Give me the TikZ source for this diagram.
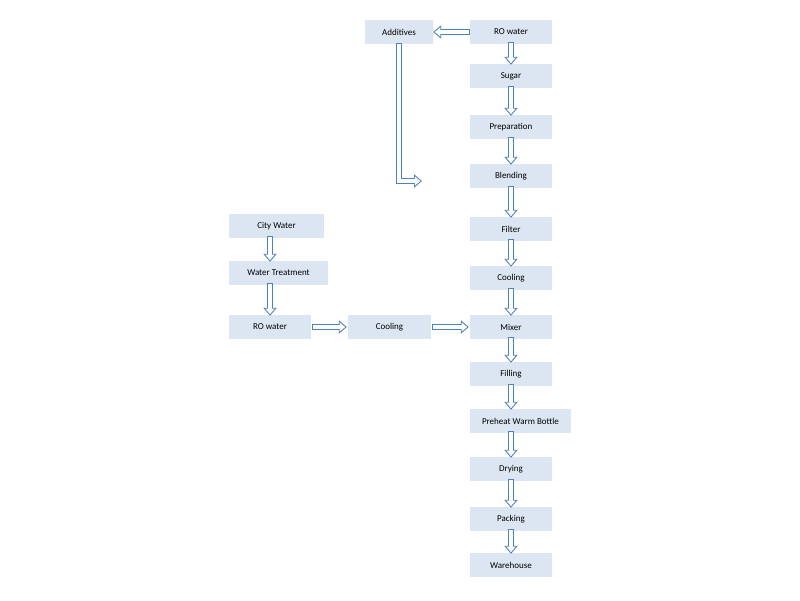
\documentclass[tikz,border=0pt]{standalone}
\usepackage{fontspec}
\setmainfont{Carlito}
\usetikzlibrary{arrows.meta}
\definecolor{boxfill}{HTML}{DCE6F2}
\definecolor{arrblue}{HTML}{4F81BD}
\tikzset{
  box/.style={fill=boxfill, draw=none, minimum height=24pt, minimum width=82pt, inner sep=1pt, font=\fontsize{9}{10}\selectfont},
  outerarr/.style={draw=arrblue, line width=6pt, line join=miter, -{Triangle[length=8pt,width=13pt]}},
  innerarr/.style={draw=white, line width=3.6pt, line join=miter, shorten >=1.6pt, shorten <=1pt, -{Triangle[length=5.6pt,width=9pt]}}
}
\newcommand\blockarrow[1]{\draw[outerarr] #1; \draw[innerarr] #1;}
\begin{document}
\begin{tikzpicture}[x=1pt,y=-1pt]
\useasboundingbox (0,0) rectangle (800,600);
\node[box] (ro) at (511,32) {RO water};
\node[box] (sugar) at (511,76) {Sugar};
\node[box] (prep) at (511,127) {Preparation};
\node[box] (blend) at (511,176) {Blending};
\node[box] (filter) at (511,229) {Filter};
\node[box] (cool1) at (511,278) {Cooling};
\node[box] (mixer) at (511,327) {Mixer};
\node[box] (fill) at (511,374) {Filling};
\node[box, minimum width=101pt] (preheat) at (520.5,421) {Preheat Warm Bottle};
\node[box] (dry) at (511,469) {Drying};
\node[box] (pack) at (511,519) {Packing};
\node[box] (ware) at (511,565) {Warehouse};
\node[box, minimum width=68pt] (add) at (399,32) {Additives};
\node[box, minimum width=95pt] (city) at (276.5,226) {City Water};
\node[box, minimum width=99pt] (wt) at (278.5,273) {Water Treatment};
\node[box] (ro2) at (270,327) {RO water};
\node[box, minimum width=83pt] (cool2) at (389.5,327) {Cooling};
\coordinate (bend) at (399,181);
\coordinate (bendend) at (422,181);
\blockarrow{(ro.west) -- (add.east)}
\blockarrow{([yshift=1pt]add.south) -- (bend) -- (bendend)}
\foreach \a/\b in {ro/sugar,sugar/prep,prep/blend,blend/filter,filter/cool1,cool1/mixer,mixer/fill,fill/preheat,preheat/dry,dry/pack,pack/ware}{
  \blockarrow{([yshift=2pt]\a.south -| ro.south) -- ([yshift=-1pt]\b.north -| ro.north)}
}
\blockarrow{([yshift=2pt]city.south -| ro2) -- ([yshift=-1pt]wt.north -| ro2)}
\blockarrow{([yshift=2pt]wt.south -| ro2) -- ([yshift=-1pt]ro2.north)}
\blockarrow{([xshift=1pt]ro2.east) -- ([xshift=-1pt]cool2.west)}
\blockarrow{([xshift=1pt]cool2.east) -- ([xshift=-1pt]mixer.west)}
\end{tikzpicture}
\end{document}
